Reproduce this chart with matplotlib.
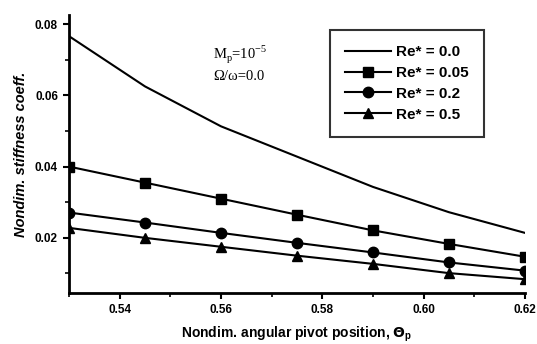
import numpy as np
import matplotlib.pyplot as plt
from matplotlib.lines import Line2D

# Data
theta_p = [0.53, 0.545, 0.56, 0.575, 0.59, 0.605, 0.62]
k_re_000 = [0.0766, 0.0625, 0.0513, 0.0428, 0.0343, 0.0272, 0.0214]
k_re_005 = [0.0400, 0.0355, 0.0310, 0.0265, 0.0221, 0.0183, 0.0147]
k_re_020 = [0.0271, 0.0243, 0.0214, 0.0186, 0.0159, 0.0131, 0.0108]
k_re_050 = [0.0228, 0.0200, 0.0175, 0.0150, 0.0127, 0.0101, 0.0084]
labels = ["Re* = 0.0", "Re* = 0.05", "Re* = 0.2", "Re* = 0.5"]

plt.rcParams['font.family'] = ['Liberation Sans', 'DejaVu Sans']

fig = plt.figure(figsize=(5.37, 3.44), dpi=100)
ax = fig.add_axes([0.1285, 0.148, 0.849, 0.808])

ax.plot(theta_p, k_re_000, color='black', lw=1.5)
ax.plot(theta_p, k_re_005, color='black', lw=1.5, marker='s', ms=7)
ax.plot(theta_p, k_re_020, color='black', lw=1.5, marker='o', ms=7.5)
ax.plot(theta_p, k_re_050, color='black', lw=1.5, marker='^', ms=7.5)

ax.set_xlim(0.53, 0.62)
ax.set_ylim(0.0045, 0.0825)
ax.set_xticks([0.54, 0.56, 0.58, 0.60, 0.62])
ax.set_xticks(np.arange(0.53, 0.625, 0.01), minor=True)
ax.set_yticks([0.02, 0.04, 0.06, 0.08])
ax.set_yticks([0.01, 0.03, 0.05, 0.07], minor=True)
ax.set_xticklabels(["0.54", "0.56", "0.58", "0.60", "0.62"])
ax.set_yticklabels(["0.02", "0.04", "0.06", "0.08"])

for side in ['top', 'right']:
    ax.spines[side].set_visible(False)
for side in ['left', 'bottom']:
    ax.spines[side].set_linewidth(2)

ax.tick_params(which='major', direction='out', length=4, width=1.5,
               labelsize=8.5, pad=4)
ax.tick_params(which='minor', direction='out', length=3, width=1.2)
for lbl in ax.get_xticklabels() + ax.get_yticklabels():
    lbl.set_fontweight('bold')

ax.set_xlabel(r"Nondim. angular pivot position, $\mathbf{\Theta}_\mathregular{p}$",
              fontsize=10, fontweight='bold', labelpad=6)
ax.set_ylabel("Nondim. stiffness coeff.", fontsize=10.5, fontweight='bold',
              style='italic', labelpad=5)

ax.text(0.5585, 0.0704, r"M$_\mathregular{p}$=10$^{\mathregular{-5}}$",
        fontsize=10.5, family='Liberation Serif')
ax.text(0.5585, 0.0642, "\u03a9/\u03c9=0.0", fontsize=10.5, family='Liberation Serif')

handles = [
    Line2D([], [], color='black', lw=1.5),
    Line2D([], [], color='black', lw=1.5, marker='s', ms=7),
    Line2D([], [], color='black', lw=1.5, marker='o', ms=7.5),
    Line2D([], [], color='black', lw=1.5, marker='^', ms=7.5),
]
leg = ax.legend(handles, labels, loc='upper right', bbox_to_anchor=(0.926, 0.975),
                frameon=True, fancybox=False, edgecolor='black', handlelength=3,
                handletextpad=0.3, borderpad=1.0, labelspacing=0.45,
                prop={'weight': 'bold', 'size': 11})
leg.get_frame().set_linewidth(1.5)

fig.savefig("out.png", dpi=100)
